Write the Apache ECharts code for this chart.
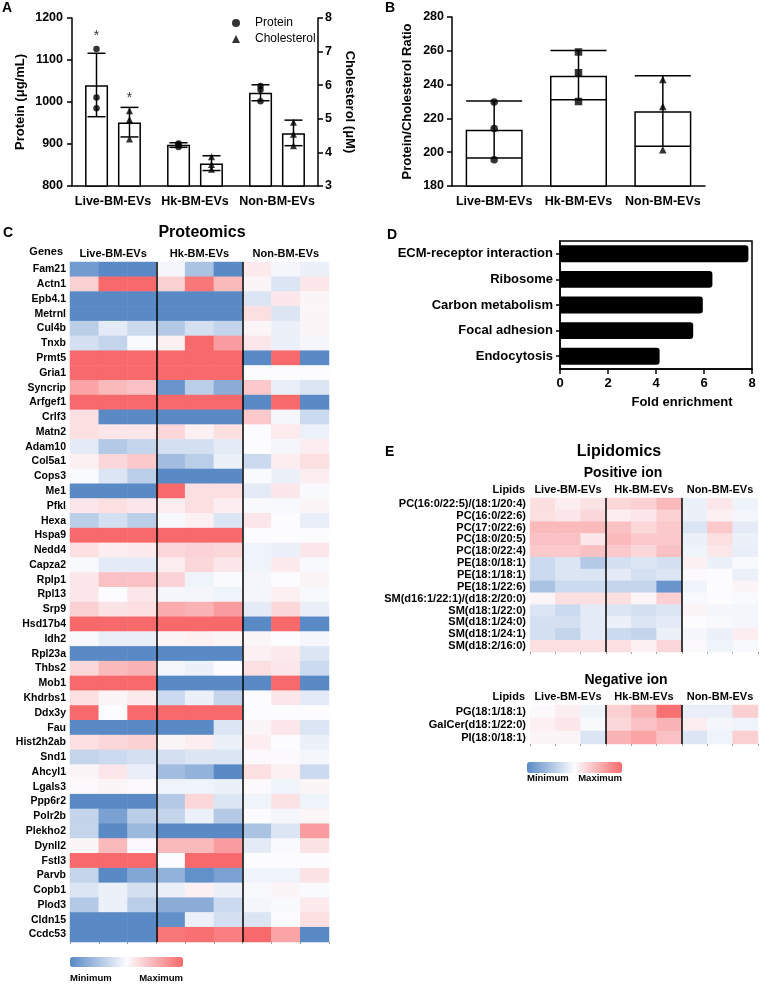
<!DOCTYPE html>
<html>
<head>
<meta charset="utf-8">
<script src="https://cdn.jsdelivr.net/npm/echarts@6/dist/echarts.min.js"></script>
<style>
 html, body { margin: 0; padding: 0; background: #fff; }
 #main { width: 760px; height: 984px; }
</style>
</head>
<body>
<div id="main"></div>
<script>
 // groups shared by the panels
 var groups = ['Live-BM-EVs', 'Hk-BM-EVs', 'Non-BM-EVs'];

 // A: protein (left axis) and cholesterol (right axis)
 var proteinMean = [1040, 898, 1022];
 var proteinErr = [[965, 1116], [892, 903], [1003, 1041]];
 var proteinPts = [[1126, 1011, 985], [901, 898, 893], [1038, 1029, 1002]];
 var cholMean = [4.89, 3.67, 4.57];
 var cholErr = [[4.46, 5.34], [3.46, 3.9], [4.2, 4.96]];
 var cholPts = [[5.24, 4.98, 4.4], [3.87, 3.64, 3.5], [4.9, 4.54, 4.2]];
 var starProtein = [[0, 1157]];
 var starChol = [[0, 5.62]];

 // B: protein / cholesterol ratio
 var ratioMean = [213.3, 245.3, 224.2];
 var ratioErr = [[196.5, 230.3], [231, 260.2], [203.5, 245.2]];
 var ratioPts = [[229.7, 214, 195.6], [259.3, 247, 230], [243, 227, 201.5]];

 // D: KEGG enrichment
 var pathways = ['ECM-receptor interaction', 'Ribosome', 'Carbon metabolism', 'Focal adhesion', 'Endocytosis'];
 var foldEnrich = [7.85, 6.35, 5.95, 5.55, 4.15];

 // C: proteomics heatmap (scaled -1 min .. 1 max), 3 replicates per group
 var columns = ['L1', 'L2', 'L3', 'H1', 'H2', 'H3', 'N1', 'N2', 'N3'];
 var genes = ['Fam21','Actn1','Epb4.1','Metrnl','Cul4b','Tnxb','Prmt5','Gria1','Syncrip','Arfgef1',
   'Crlf3','Matn2','Adam10','Col5a1','Cops3','Me1','Pfkl','Hexa','Hspa9','Nedd4',
   'Capza2','Rplp1','Rpl13','Srp9','Hsd17b4','Idh2','Rpl23a','Thbs2','Mob1','Khdrbs1',
   'Ddx3y','Fau','Hist2h2ab','Snd1','Ahcyl1','Lgals3','Ppp6r2','Polr2b','Plekho2','Dynll2',
   'Fstl3','Parvb','Copb1','Plod3','Cldn15','Ccdc53'];
 var protLive = [[-0.85,-1,-1],[0.3,1,1],[-1,-1,-1],[-1,-1,-1],[-0.4,-0.15,-0.3],[-0.25,-0.35,-0.02],[1,1,1],[1,1,1],[0.6,0.45,0.4],[1,1,1],
   [0.2,-1,-1],[0.2,0.15,0.15],[-0.15,-0.45,-0.35],[0.08,0.25,0.35],[-0.02,-0.2,-0.4],[-1,-1,-1],[0.15,0.2,0.15],[-0.4,-0.25,-0.4],[1,1,1],[0.2,0.1,0.12],
   [-0.03,-0.15,-0.15],[0.15,0.4,0.4],[0.15,0,0.15],[0.3,0.18,0.2],[1,1,1],[-0.03,-0.12,-0.12],[-1,-1,-1],[0.25,0.45,0.5],[1,1,1],[0.2,0.05,0.12],
   [1,0,1],[-1,-1,-1],[0.2,0.25,0.3],[-0.35,-0.3,-0.25],[0.05,0.15,-0.12],[0.03,0.05,0.03],[-1,-1,-1],[-0.35,-0.8,-0.4],[-0.35,-1,-0.6],[0.05,0.45,0.02],
   [1,1,1],[-0.35,-1,-0.75],[-0.2,-0.1,-0.25],[-0.45,-0.1,-0.4],[-1,-1,-1],[-1,-1,-1]];
 var protHk = [[-0.05,-0.5,-1],[0.3,0.9,0.45],[-1,-1,-1],[-1,-1,-1],[-0.45,-0.25,-0.35],[0.08,1,0.65],[1,1,1],[1,1,1],[-0.9,-0.4,-0.7],[1,1,1],
   [-1,-1,-1],[0.25,0.08,0.2],[-0.25,-0.25,-0.15],[-0.55,-0.4,-0.1],[-1,-1,-1],[1,0.2,0.2],[0.1,0.2,0.1],[-0.03,0.08,-0.2],[1,1,1],[0.25,0.28,0.25],
   [0.1,0.25,0.15],[0.28,-0.08,-0.02],[-0.05,-0.05,-0.08],[0.55,0.5,0.65],[1,1,1],[0.05,0.08,0.05],[-1,-1,-1],[-0.05,-0.1,0],[-1,-1,-1],[-0.3,-0.1,-0.35],
   [1,1,1],[-1,-1,-0.2],[0.05,0.1,-0.1],[-0.25,-0.2,-0.2],[-0.55,-0.65,-1],[-0.08,-0.08,-0.1],[-0.45,0.25,-0.2],[-0.35,-0.1,-0.45],[-1,-1,-1],[0.45,0.45,0.65],
   [0,1,1],[-0.65,-0.95,-0.8],[-0.1,0.08,-0.1],[-0.7,-0.7,-0.3],[-0.95,-0.1,-0.25],[0.9,0.95,0.85]];
 var protNon = [[0.12,-0.05,-0.1],[0.05,-0.2,0.15],[-0.2,0.15,0.05],[0.2,-0.2,0.05],[0.05,-0.1,0.05],[0.15,-0.1,-0.05],[-1,1,-1],[0,0,0],[0.35,-0.12,-0.2],[-1,1,-1],
   [0.35,-0.05,-0.3],[0,0.12,-0.1],[0,-0.05,0.1],[-0.3,0.1,0.2],[-0.02,-0.1,0.1],[-0.15,0.15,-0.03],[-0.03,-0.03,0.05],[0.15,0,-0.12],[0,0,0],[-0.08,-0.1,0.15],
   [-0.08,0.12,-0.03],[-0.05,0,0.05],[-0.05,0.08,-0.03],[-0.15,0.25,-0.12],[-1,1,-1],[0.05,0,-0.05],[0.08,0.12,-0.2],[0.2,0.15,-0.3],[-1,1,-1],[0,0.15,-0.15],
   [0,0,0],[0.05,0.15,-0.2],[0.1,0,-0.1],[0.03,0.02,-0.05],[0.2,0.08,-0.3],[0.02,-0.08,0.05],[-0.08,0.18,-0.08],[0,-0.05,0.05],[-0.5,-0.2,0.65],[-0.15,-0.02,0.18],
   [0,0,0],[-0.08,-0.08,0.18],[-0.03,0.05,-0.02],[-0.05,-0.03,0.12],[-0.2,0,0.2],[1,0.6,-1]];

 // E: lipidomics heatmaps
 var lipidsPos = ['PC(16:0/22:5)/(18:1/20:4)','PC(16:0/22:6)','PC(17:0/22:6)','PC(18:0/20:5)','PC(18:0/22:4)',
   'PE(18:0/18:1)','PE(18:1/18:1)','PE(18:1/22:6)','SM(d16:1/22:1)/(d18:2/20:0)','SM(d18:1/22:0)',
   'SM(d18:1/24:0)','SM(d18:1/24:1)','SM(d18:2/16:0)'];
 var posLive = [[0.2,0.1,0.18],[0.2,0.15,0.25],[0.45,0.45,0.45],[0.4,0.4,0.15],[0.35,0.35,0.4],
   [-0.3,-0.2,-0.45],[-0.3,-0.2,-0.2],[-0.5,-0.3,-0.3],[0.05,0.2,0.2],[-0.2,-0.3,-0.15],
   [-0.25,-0.25,-0.15],[-0.25,-0.35,-0.15],[0.2,0.2,0.2]];
 var posHk = [[0.25,0.3,0.45],[0.1,0.15,0.3],[0.4,0.25,0.35],[0.45,0.35,0.35],[0.35,0.25,0.4],
   [-0.25,-0.2,-0.25],[-0.15,-0.25,-0.2],[-0.35,-0.35,-0.9],[0.2,0.05,0.3],[-0.2,-0.25,-0.2],
   [-0.1,-0.2,-0.15],[-0.3,-0.35,-0.1],[0.2,0.08,0.25]];
 var posNon = [[-0.1,0.15,-0.08],[-0.1,0.08,-0.05],[-0.2,0.35,-0.15],[-0.1,0.2,-0.1],[-0.08,0.15,-0.12],
   [0.08,-0.1,-0.03],[0.02,0,-0.1],[-0.08,0,0.05],[-0.03,0,-0.02],[0.05,-0.05,-0.05],
   [0,-0.03,-0.05],[-0.05,-0.1,0.1],[0.02,-0.08,-0.03]];
 var lipidsNeg = ['PG(18:1/18:1)', 'GalCer(d18:1/22:0)', 'PI(18:0/18:1)'];
 var negLive = [[0.02,0.1,-0.08],[0.08,0.15,-0.03],[0.05,0.05,-0.2]];
 var negHk = [[0.3,0.5,0.95],[0.25,0.4,0.5],[0.5,0.6,0.4]];
 var negNon = [[-0.12,-0.12,0.3],[0.1,-0.05,-0.08],[-0.2,-0.08,0.3]];

 var heatColors = ['#5A8AC6', '#FCFCFF', '#F8696B'];
 var FONT = 'Liberation Sans, Arial, sans-serif';

 function cells(sets) {
   var out = [];
   sets.forEach(function (vals, g) {
     vals.forEach(function (trip, i) {
       trip.forEach(function (v, r) { out.push([g * 3 + r, i, v]); });
     });
   });
   return out;
 }
 function pts(arr) {
   var out = [];
   arr.forEach(function (vals, i) { vals.forEach(function (v) { out.push([i, v]); }); });
   return out;
 }
 function errRows(arr) {
   return arr.map(function (e, i) { return [i, e[0], e[1]]; });
 }
 function errRender(offset, halfCap) {
   return function (params, api) {
     var lo = api.coord([api.value(0), api.value(1)]);
     var hi = api.coord([api.value(0), api.value(2)]);
     var x = lo[0] + offset;
     var st = { stroke: '#000', lineWidth: 1.5 };
     return { type: 'group', children: [
       { type: 'line', shape: { x1: x, y1: lo[1], x2: x, y2: hi[1] }, style: st },
       { type: 'line', shape: { x1: x - halfCap, y1: lo[1], x2: x + halfCap, y2: lo[1] }, style: st },
       { type: 'line', shape: { x1: x - halfCap, y1: hi[1], x2: x + halfCap, y2: hi[1] }, style: st }
     ] };
   };
 }

 var blackLine = { show: true, lineStyle: { color: '#000', width: 1.5 } };
 var plain = function (v) { return String(v); };
 var boldLbl = function (size, margin) {
   return { color: '#000', fontWeight: 'bold', fontSize: size, margin: margin, formatter: plain };
 };
 function catAxis(grid, data) {
   var lbl = boldLbl(12.5, 9);
   lbl.interval = 0;
   delete lbl.formatter;
   return { type: 'category', gridIndex: grid, data: data, axisLine: blackLine,
     axisTick: { show: false }, axisLabel: lbl };
 }
 function colAxis(grid) {
   return { type: 'category', gridIndex: grid, data: columns, position: 'bottom',
     axisLine: { show: false }, axisLabel: { show: false },
     axisTick: { show: true, length: 2, lineStyle: { color: '#999' } } };
 }
 function groupAxis(grid) {
   return { type: 'category', gridIndex: grid, data: groups, position: 'top', z: 10,
     axisLine: { show: false }, axisTick: { show: false },
     axisLabel: { color: '#000', fontWeight: 'bold', fontSize: 11, margin: 3, interval: 0 },
     splitLine: { show: true, interval: 0, showMinLine: false, showMaxLine: false,
       lineStyle: { color: '#000', width: 1.5 } } };
 }
 function rowAxis(grid, data, size) {
   return { type: 'category', gridIndex: grid, data: data, inverse: true,
     axisLine: { show: false }, axisTick: { show: false },
     axisLabel: { color: '#000', fontWeight: 'bold', fontSize: size, margin: 4, interval: 0 } };
 }
 function txt(x, y, s, size, align, weight) {
   return { type: 'text', x: x, y: y, style: {
     text: s, font: (weight || 'bold') + ' ' + size + 'px ' + FONT, fill: '#000',
     textAlign: align, align: align, textVerticalAlign: 'middle', verticalAlign: 'middle' } };
 }

 var series = [];
 series.push({ type: 'bar', xAxisIndex: 0, yAxisIndex: 0, data: proteinMean, barWidth: 23, barGap: '43%',
   itemStyle: { color: '#fff', borderColor: '#000', borderWidth: 1.5 } });
 series.push({ type: 'bar', xAxisIndex: 0, yAxisIndex: 1, data: cholMean, barWidth: 23, barGap: '43%',
   itemStyle: { color: '#fff', borderColor: '#000', borderWidth: 1.5 } });
 series.push({ type: 'custom', xAxisIndex: 0, yAxisIndex: 0, data: errRows(proteinErr), z: 3,
   encode: { x: 0, y: [1, 2] }, renderItem: errRender(-16.5, 9) });
 series.push({ type: 'custom', xAxisIndex: 0, yAxisIndex: 1, data: errRows(cholErr), z: 3,
   encode: { x: 0, y: [1, 2] }, renderItem: errRender(16.5, 9) });
 series.push({ name: 'Protein', type: 'scatter', xAxisIndex: 0, yAxisIndex: 0, data: pts(proteinPts),
   symbol: 'circle', symbolSize: 6.5, symbolOffset: [-16.5, 0], itemStyle: { color: '#000' }, z: 4 });
 series.push({ name: 'Cholesterol', type: 'scatter', xAxisIndex: 0, yAxisIndex: 1, data: pts(cholPts),
   symbol: 'triangle', symbolSize: 7, symbolOffset: [16.5, 0], itemStyle: { color: '#000' }, z: 4 });
 [[starProtein, 0, -16.5], [starChol, 1, 16.5]].forEach(function (s) {
   series.push({ type: 'scatter', xAxisIndex: 0, yAxisIndex: s[1], data: s[0], symbolSize: 0.1,
     itemStyle: { color: 'rgba(0,0,0,0)' },
     label: { show: true, position: 'inside', formatter: '*', offset: [s[2], 0], color: '#000', fontSize: 14 } });
 });

 series.push({ type: 'bar', xAxisIndex: 1, yAxisIndex: 2, data: ratioMean, barWidth: 57,
   itemStyle: { color: '#fff', borderColor: '#000', borderWidth: 1.5 } });
 series.push({ type: 'custom', xAxisIndex: 1, yAxisIndex: 2, data: errRows(ratioErr), z: 3,
   encode: { x: 0, y: [1, 2] }, renderItem: errRender(0, 28) });
 var ratioSymbols = ['circle', 'rect', 'triangle'];
 series.push({ type: 'scatter', xAxisIndex: 1, yAxisIndex: 2, z: 4, symbolSize: 7.5,
   itemStyle: { color: '#000' },
   data: pts(ratioPts).map(function (p) { return { value: p, symbol: ratioSymbols[p[0]] }; }) });

 var idxC = series.length;
 series.push({ type: 'heatmap', xAxisIndex: 2, yAxisIndex: 3, data: cells([protLive, protHk, protNon]),
   itemStyle: { borderWidth: 0 }, emphasis: { disabled: true } });

 series.push({ type: 'bar', xAxisIndex: 4, yAxisIndex: 4, data: foldEnrich, barCategoryGap: '34%',
   itemStyle: { color: '#000', borderRadius: [0, 3, 3, 0] } });

 var idxE = series.length;
 series.push({ type: 'heatmap', xAxisIndex: 5, yAxisIndex: 5, data: cells([posLive, posHk, posNon]),
   itemStyle: { borderWidth: 0 }, emphasis: { disabled: true } });
 series.push({ type: 'heatmap', xAxisIndex: 7, yAxisIndex: 6, data: cells([negLive, negHk, negNon]),
   itemStyle: { borderWidth: 0 }, emphasis: { disabled: true } });

 var myChart = echarts.init(document.getElementById('main'), null, { renderer: 'canvas' });
 var option = {
   animation: false,
   backgroundColor: '#fff',
   textStyle: { fontFamily: FONT, color: '#000' },
   grid: [
     { left: 72, top: 18, width: 246, height: 168 },
     { left: 452, top: 17, width: 253, height: 169 },
     { left: 70, top: 262, width: 259, height: 680 },
     { left: 560, top: 241, width: 192, height: 128, show: true, borderColor: '#000', borderWidth: 1.5 },
     { left: 530, top: 498, width: 228, height: 154 },
     { left: 530, top: 705, width: 228, height: 39 }
   ],
   legend: { data: [{ name: 'Protein', icon: 'circle' }, { name: 'Cholesterol', icon: 'triangle' }],
     orient: 'vertical', left: 232, top: 17, padding: 0,
     itemWidth: 8, itemHeight: 8, itemGap: 4,
     textStyle: { fontSize: 12, color: '#000', padding: [0, 0, 0, 10] } },
   xAxis: [
     catAxis(0, groups),
     catAxis(1, groups),
     colAxis(2), groupAxis(2),
     { type: 'value', gridIndex: 3, min: 0, max: 8, interval: 2, axisLine: blackLine,
       axisTick: { show: true, length: 5, lineStyle: { color: '#000', width: 1.5 } },
       axisLabel: boldLbl(13, 8), splitLine: { show: false },
       name: 'Fold enrichment', nameLocation: 'middle', nameGap: 27,
       nameTextStyle: { fontWeight: 'bold', fontSize: 13, color: '#000', padding: [0, 0, 0, 52] } },
     colAxis(4), groupAxis(4),
     colAxis(5), groupAxis(5)
   ],
   yAxis: [
     { type: 'value', gridIndex: 0, min: 800, max: 1200, interval: 100, position: 'left',
       axisLine: blackLine, axisTick: { show: true, length: 5, lineStyle: { color: '#000', width: 1.5 } },
       axisLabel: boldLbl(12.5, 9), splitLine: { show: false },
       name: 'Protein (μg/mL)', nameLocation: 'middle', nameGap: 45, nameRotate: 90,
       nameTextStyle: { fontWeight: 'bold', fontSize: 13, color: '#000' } },
     { type: 'value', gridIndex: 0, min: 3, max: 8, interval: 1, position: 'right',
       axisLine: blackLine, axisTick: { show: true, length: 5, lineStyle: { color: '#000', width: 1.5 } },
       axisLabel: boldLbl(12.5, 7), splitLine: { show: false },
       name: 'Cholesterol (μM)', nameLocation: 'middle', nameGap: 25, nameRotate: -90,
       nameTextStyle: { fontWeight: 'bold', fontSize: 13, color: '#000' } },
     { type: 'value', gridIndex: 1, min: 180, max: 280, interval: 20,
       axisLine: blackLine, axisTick: { show: true, length: 5, lineStyle: { color: '#000', width: 1.5 } },
       axisLabel: boldLbl(12.5, 8), splitLine: { show: false },
       name: 'Protein/Cholesterol Ratio', nameLocation: 'middle', nameGap: 38, nameRotate: 90,
       nameTextStyle: { fontWeight: 'bold', fontSize: 13, color: '#000' } },
     rowAxis(2, genes, 10.5),
     { type: 'category', gridIndex: 3, data: pathways, inverse: true, axisLine: blackLine,
       axisTick: { show: true, alignWithLabel: true, length: 4, lineStyle: { color: '#000', width: 1.5 } },
       axisLabel: { color: '#000', fontWeight: 'bold', fontSize: 13, margin: 7, interval: 0 } },
     rowAxis(4, lipidsPos, 11),
     rowAxis(5, lipidsNeg, 11)
   ],
   visualMap: [
     { type: 'continuous', min: -1, max: 1, seriesIndex: [idxC], orient: 'horizontal',
       left: 70, top: 957, itemWidth: 10, itemHeight: 113, calculable: false, padding: 0,
       hoverLink: false, inRange: { color: heatColors } },
     { type: 'continuous', min: -1, max: 1, seriesIndex: [idxE, idxE + 1], orient: 'horizontal',
       left: 527, top: 762, itemWidth: 11, itemHeight: 95, calculable: false, padding: 0,
       hoverLink: false, inRange: { color: heatColors } }
   ],
   graphic: [
     txt(2, 8, 'A', 14, 'left'), txt(385, 8, 'B', 14, 'left'), txt(3, 233, 'C', 14, 'left'),
     txt(387, 235, 'D', 14, 'left'), txt(385, 452, 'E', 14, 'left'),
     txt(202, 233, 'Proteomics', 16, 'center'),
     txt(619, 452, 'Lipidomics', 16, 'center'),
     txt(623, 473, 'Positive ion', 14, 'center'),
     txt(626, 680, 'Negative ion', 14, 'center'),
     txt(63, 252, 'Genes', 11, 'right'),
     txt(525, 490, 'Lipids', 11, 'right'),
     txt(525, 697, 'Lipids', 11, 'right'),
     txt(70, 978, 'Minimum', 9.5, 'left'), txt(183, 978, 'Maximum', 9.5, 'right'),
     txt(527, 778, 'Minimum', 9.5, 'left'), txt(622, 778, 'Maximum', 9.5, 'right')
   ],
   series: series
 };
 myChart.setOption(option);
</script>
</body>
</html>
